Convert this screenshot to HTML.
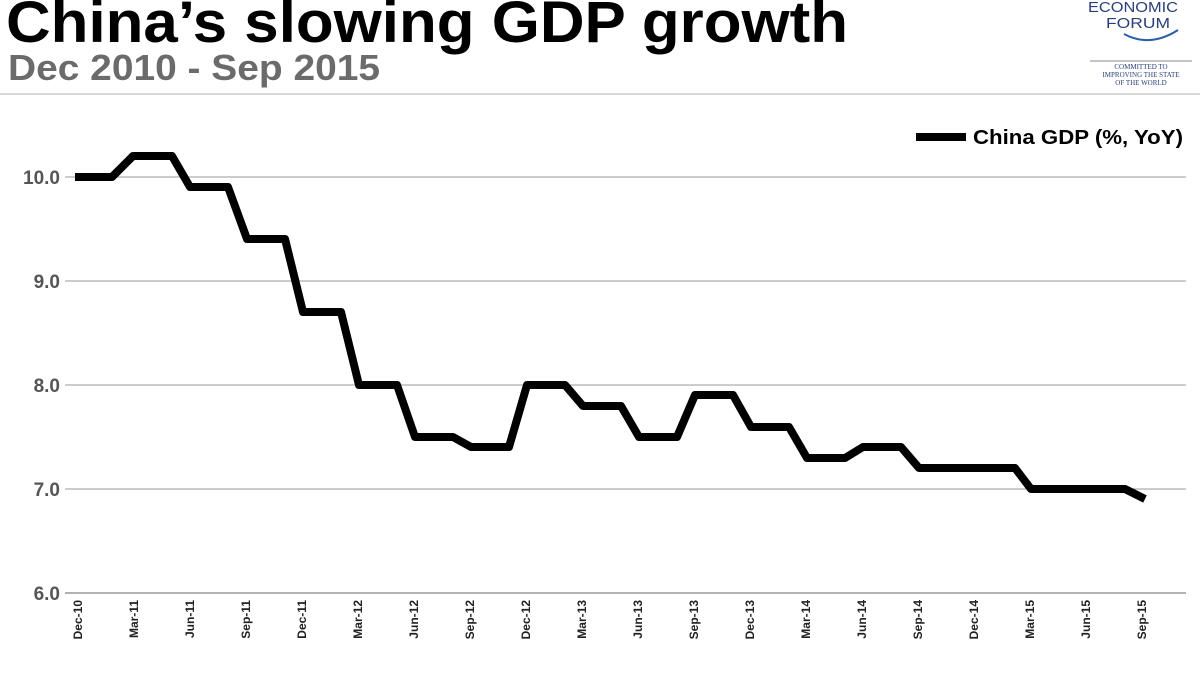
<!DOCTYPE html>
<html><head><meta charset="utf-8"><style>
html,body{margin:0;padding:0;background:#fff;}
svg{display:block;font-family:"Liberation Sans",Arial,sans-serif;}
</style></head><body>
<svg width="1200" height="675" viewBox="0 0 1200 675">
<text x="6" y="42" font-size="58" font-weight="bold" fill="#000" textLength="842" lengthAdjust="spacingAndGlyphs">China’s slowing GDP growth</text>
<text x="8" y="80" font-size="36" font-weight="bold" fill="#6b6b6b" textLength="372" lengthAdjust="spacingAndGlyphs">Dec 2010 - Sep 2015</text>
<line x1="0" y1="94" x2="1200" y2="94" stroke="#ccc" stroke-width="1.5"/>
<text x="1088" y="12" font-size="15" fill="#2a3f7a" textLength="90" lengthAdjust="spacingAndGlyphs">ECONOMIC</text>
<text x="1106" y="28" font-size="15" fill="#2a3f7a" textLength="64" lengthAdjust="spacingAndGlyphs">FORUM</text>
<path d="M1124 34 Q1150 48 1178 30" fill="none" stroke="#2a5fa8" stroke-width="2"/>
<line x1="1090" y1="61" x2="1192" y2="61" stroke="#888" stroke-width="1"/>
<text x="1141" y="69" font-size="7" font-family="Liberation Serif,serif" fill="#2a3f7a" text-anchor="middle">COMMITTED TO</text>
<text x="1141" y="77" font-size="7" font-family="Liberation Serif,serif" fill="#2a3f7a" text-anchor="middle">IMPROVING THE STATE</text>
<text x="1141" y="85" font-size="7" font-family="Liberation Serif,serif" fill="#2a3f7a" text-anchor="middle">OF THE WORLD</text>
<g stroke="#999" stroke-width="1">
<line x1="65" y1="177" x2="1186" y2="177"/>
<line x1="65" y1="281" x2="1186" y2="281"/>
<line x1="65" y1="385" x2="1186" y2="385"/>
<line x1="65" y1="489" x2="1186" y2="489"/>
<line x1="65" y1="593" x2="1186" y2="593" stroke="#666"/>
</g>
<g font-size="19" font-weight="bold" fill="#555" text-anchor="end">
<text x="60" y="184">10.0</text>
<text x="60" y="288">9.0</text>
<text x="60" y="392">8.0</text>
<text x="60" y="496">7.0</text>
<text x="60" y="600">6.0</text>
</g>
<g font-size="12" font-weight="bold" fill="#222" text-anchor="end">
<text transform="translate(82,600) rotate(-90)">Dec-10</text>
<text transform="translate(138,600) rotate(-90)">Mar-11</text>
<text transform="translate(194,600) rotate(-90)">Jun-11</text>
<text transform="translate(250,600) rotate(-90)">Sep-11</text>
<text transform="translate(306,600) rotate(-90)">Dec-11</text>
<text transform="translate(362,600) rotate(-90)">Mar-12</text>
<text transform="translate(418,600) rotate(-90)">Jun-12</text>
<text transform="translate(474,600) rotate(-90)">Sep-12</text>
<text transform="translate(530,600) rotate(-90)">Dec-12</text>
<text transform="translate(586,600) rotate(-90)">Mar-13</text>
<text transform="translate(642,600) rotate(-90)">Jun-13</text>
<text transform="translate(698,600) rotate(-90)">Sep-13</text>
<text transform="translate(754,600) rotate(-90)">Dec-13</text>
<text transform="translate(810,600) rotate(-90)">Mar-14</text>
<text transform="translate(866,600) rotate(-90)">Jun-14</text>
<text transform="translate(922,600) rotate(-90)">Sep-14</text>
<text transform="translate(978,600) rotate(-90)">Dec-14</text>
<text transform="translate(1034,600) rotate(-90)">Mar-15</text>
<text transform="translate(1090,600) rotate(-90)">Jun-15</text>
<text transform="translate(1146,600) rotate(-90)">Sep-15</text>
</g>
<polyline fill="none" stroke="#000" stroke-width="8" stroke-linejoin="round" points="
75,177 112,177 133,156 172,156 190,187 228,187 247,239 285,239 303,312 341,312 359,385 397,385 415,437 453,437 471,447 509,447 527,385 565,385 583,406 621,406 639,437 677,437 695,395 733,395 751,427 789,427 807,458 845,458 863,447 901,447 919,468 1015,468 1031,489 1125,489 1145,499"/>
<line x1="916" y1="137" x2="966" y2="137" stroke="#000" stroke-width="8"/>
<text x="973" y="144" font-size="20" font-weight="bold" fill="#000" textLength="210" lengthAdjust="spacingAndGlyphs">China GDP (%, YoY)</text>
</svg>
</body></html>
